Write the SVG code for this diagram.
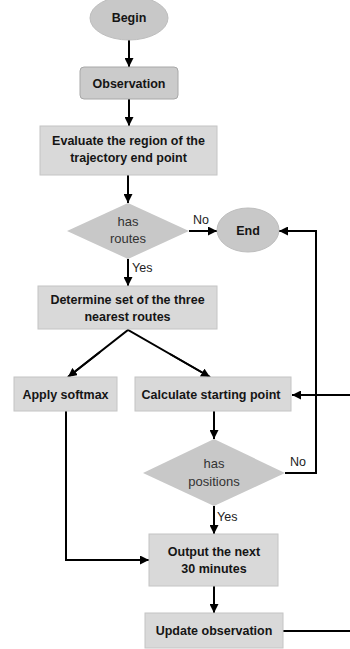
<svg xmlns="http://www.w3.org/2000/svg" width="350" height="649" viewBox="0 0 350 649">
<defs>
<marker id="ah" viewBox="0 0 10 10" refX="10" refY="5" markerWidth="4.5" markerHeight="4.5" orient="auto" markerUnits="strokeWidth">
<path d="M0,0 L10,5 L0,10 Z" fill="#000"/>
</marker>
<style>
.box{fill:#d9d9d9;stroke:#c4c4c4;stroke-width:1}
.rbox{fill:#cbcbcb;stroke:#a8a8a8;stroke-width:1}
.dia{fill:#c8c8c8;stroke:none}
.ell{fill:#c8c8c8;stroke:#bdbdbd;stroke-width:1}
.t{font-family:"Liberation Sans",Arial,sans-serif;font-size:12.5px;font-weight:bold;fill:#151515;text-anchor:middle}
.r{font-family:"Liberation Sans",Arial,sans-serif;font-size:13px;fill:#333;text-anchor:middle}
.l{font-family:"Liberation Sans",Arial,sans-serif;font-size:12.5px;fill:#222}
.c{fill:none;stroke:#000;stroke-width:2}
.ca{fill:none;stroke:#000;stroke-width:2;marker-end:url(#ah)}
</style>
</defs>
<g id="connectors">
<line class="ca" x1="129" y1="40" x2="129" y2="67"/>
<line class="ca" x1="129" y1="99" x2="129" y2="126"/>
<line class="ca" x1="128" y1="175" x2="128" y2="203"/>
<line class="ca" x1="189" y1="231" x2="217" y2="231"/>
<line class="ca" x1="128" y1="259" x2="128" y2="286"/>
<polyline class="c" points="68,377 128,330 210,377"/>
<line class="ca" x1="100" y1="352" x2="68" y2="377"/>
<line class="ca" x1="170" y1="354" x2="210" y2="377"/>
<line class="ca" x1="350" y1="395" x2="292" y2="395"/>
<line class="ca" x1="214" y1="411" x2="214" y2="439"/>
<polyline class="ca" points="285,473 316,473 316,231 279,231"/>
<line class="ca" x1="214" y1="506" x2="214" y2="534"/>
<polyline class="ca" points="66,411 66,560 149,560"/>
<line class="ca" x1="214" y1="586" x2="214" y2="613"/>
<line class="c" x1="283" y1="631" x2="350" y2="631"/>
<text class="l" x="193" y="224">No</text>
<text class="l" x="132" y="272">Yes</text>
<text class="l" x="290" y="466">No</text>
<text class="l" x="217" y="521">Yes</text>
</g>
<g id="begin">
<ellipse class="ell" cx="129" cy="18" rx="39" ry="22"/>
<text class="t" x="129" y="22">Begin</text>
</g>
<g id="observation">
<rect class="rbox" x="80" y="67" width="98" height="32" rx="4"/>
<text class="t" x="129" y="88">Observation</text>
</g>
<g id="evaluate">
<rect class="box" x="40" y="126" width="177" height="49"/>
<text class="t" x="128.5" y="145">Evaluate the region of the</text>
<text class="t" x="128.5" y="162">trajectory end point</text>
</g>
<g id="has-routes">
<polygon class="dia" points="128,203 189,231 128,259 67,231"/>
<text class="r" x="128" y="226">has</text>
<text class="r" x="128" y="243">routes</text>
</g>
<g id="end">
<ellipse class="ell" cx="248" cy="230" rx="31" ry="22"/>
<text class="t" x="248" y="235">End</text>
</g>
<g id="determine">
<rect class="box" x="38" y="286" width="179" height="43"/>
<text class="t" x="127.5" y="304">Determine set of the three</text>
<text class="t" x="127.5" y="321">nearest routes</text>
</g>
<g id="softmax">
<rect class="box" x="14" y="377" width="103" height="34"/>
<text class="t" x="65.5" y="399">Apply softmax</text>
</g>
<g id="calculate">
<rect class="box" x="135" y="377" width="156" height="34"/>
<text class="t" x="211" y="399">Calculate starting point</text>
</g>
<g id="has-positions">
<polygon class="dia" points="214,439 285,473 214,506 143,473"/>
<text class="r" x="214" y="468">has</text>
<text class="r" x="214" y="486">positions</text>
</g>
<g id="output">
<rect class="box" x="149" y="534" width="129" height="52"/>
<text class="t" x="214" y="556">Output the next</text>
<text class="t" x="214" y="573">30 minutes</text>
</g>
<g id="update">
<rect class="box" x="145" y="613" width="138" height="35"/>
<text class="t" x="214" y="635">Update observation</text>
</g>
</svg>
